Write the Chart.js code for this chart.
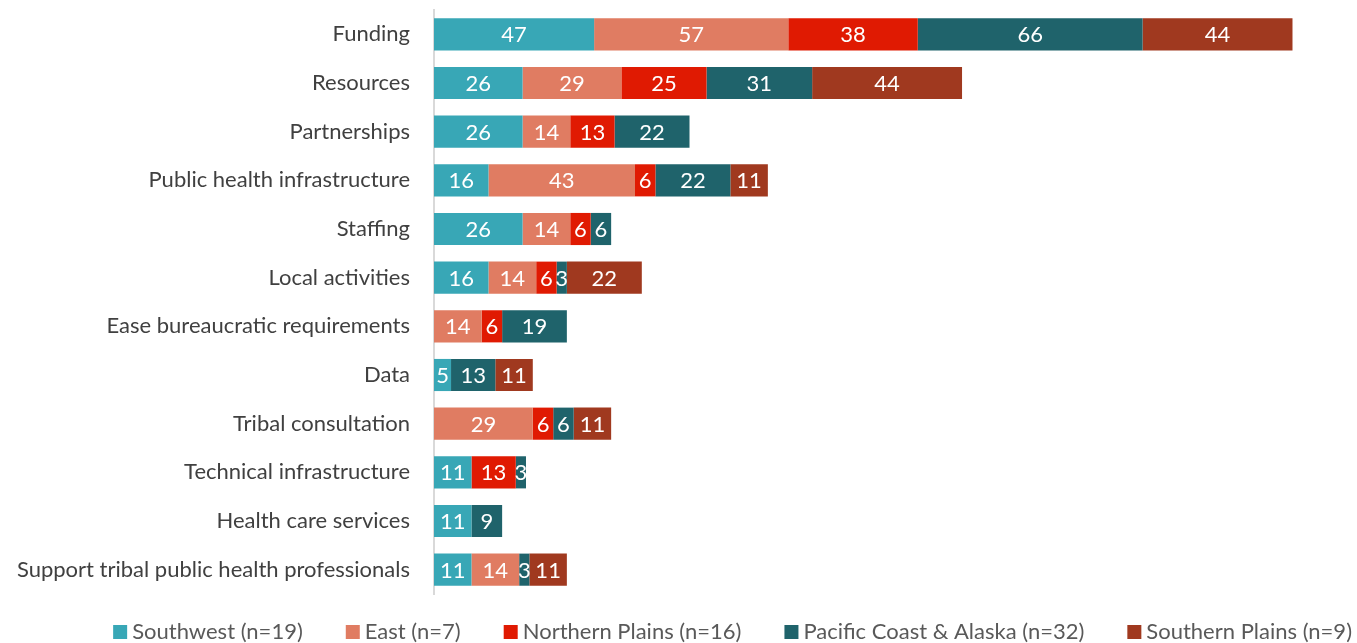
<!DOCTYPE html>
<html>
<head>
<meta charset="utf-8">
<script src="https://cdn.jsdelivr.net/npm/chart.js@4/dist/chart.umd.min.js"></script>
<style>
  html, body { margin: 0; padding: 0; background: #fff; }
  #wrap { width: 1357px; height: 643px; position: relative; }
</style>
</head>
<body>
<div id="wrap"><canvas id="myChart"></canvas></div>
<script>
// categories, top to bottom
var categories = ['Funding', 'Resources', 'Partnerships', 'Public health infrastructure', 'Staffing',
  'Local activities', 'Ease bureaucratic requirements', 'Data', 'Tribal consultation',
  'Technical infrastructure', 'Health care services', 'Support tribal public health professionals'];

// percent of respondents per region (0 = not mentioned)
var southwest      = [47, 26, 26, 16, 26, 16, 0, 5, 0, 11, 11, 11];
var east           = [57, 29, 14, 43, 14, 14, 14, 0, 29, 0, 0, 14];
var northernPlains = [38, 25, 13, 6, 6, 6, 6, 0, 6, 13, 0, 0];
var pacificCoast   = [66, 31, 22, 22, 6, 3, 19, 13, 6, 3, 9, 3];
var southernPlains = [44, 44, 0, 11, 0, 22, 0, 11, 11, 0, 0, 11];

var seriesNames = ['Southwest (n=19)', 'East (n=7)', 'Northern Plains (n=16)',
  'Pacific Coast & Alaska (n=32)', 'Southern Plains (n=9)'];

var FONT = 'Lato, "Open Sans", sans-serif';
var FSIZE = 22;

// white numbers in the middle of each segment
var segmentLabels = {
  id: 'segmentLabels',
  afterDatasetsDraw: function(chart) {
    var ctx = chart.ctx;
    ctx.save();
    ctx.font = FSIZE + 'px ' + FONT;
    ctx.fillStyle = '#ffffff';
    ctx.textAlign = 'center';
    ctx.textBaseline = 'middle';
    chart.data.datasets.forEach(function(ds, i) {
      var meta = chart.getDatasetMeta(i);
      meta.data.forEach(function(bar, j) {
        var v = ds.data[j];
        if (!v) return;
        var p = bar.getProps(['x', 'y', 'base'], true);
        ctx.fillText(String(v), (p.x + p.base) / 2, p.y + 1);
      });
    });
    ctx.restore();
  }
};

// legend along the bottom, right aligned like the original
var bottomLegend = {
  id: 'bottomLegend',
  afterDraw: function(chart) {
    var ctx = chart.ctx;
    var box = 14, gapText = 5, gapItem = 43, yMid = 632;
    ctx.save();
    ctx.font = FSIZE + 'px ' + FONT;
    ctx.textBaseline = 'middle';
    ctx.textAlign = 'left';
    var widths = chart.data.datasets.map(function(ds) { return ctx.measureText(ds.label).width; });
    var total = 0;
    widths.forEach(function(w, i) { total += box + gapText + w + (i ? gapItem : 0); });
    var x = 1352 - total;
    chart.data.datasets.forEach(function(ds, i) {
      ctx.fillStyle = ds.backgroundColor;
      ctx.fillRect(x, yMid - box / 2, box, box);
      ctx.fillStyle = '#595959';
      ctx.fillText(ds.label, x + box + gapText, yMid);
      x += box + gapText + widths[i] + gapItem;
    });
    ctx.restore();
  }
};

var colors = ['#38A7B6', '#E07C62', '#E01A02', '#1F636B', '#A0391F'];
var values = [southwest, east, northernPlains, pacificCoast, southernPlains];

var ctx = document.getElementById('myChart');
var myChart = new Chart(ctx, {
  type: 'bar',
  data: {
    labels: categories,
    datasets: values.map(function(v, i) {
      return {
        label: seriesNames[i],
        data: v,
        backgroundColor: colors[i],
        borderWidth: 0,
        barPercentage: 0.66,
        categoryPercentage: 1
      };
    })
  },
  options: {
    indexAxis: 'y',
    responsive: true,
    maintainAspectRatio: false,
    animation: false,
    layout: { padding: { top: 10, right: 10, bottom: 49, left: 0 } },
    plugins: {
      legend: { display: false },
      tooltip: { enabled: false }
    },
    scales: {
      x: {
        stacked: true,
        display: false,
        min: 0,
        max: 268
      },
      y: {
        stacked: true,
        grid: { display: false, drawTicks: false },
        border: { display: true, color: '#D9D9D9', width: 2 },
        afterFit: function(scale) {
          scale.width = 434;
          scale.paddingTop = 0;
          scale.paddingBottom = 0;
        },
        ticks: {
          padding: 24,
          color: '#404040',
          font: { family: FONT, size: FSIZE }
        }
      }
    }
  },
  plugins: [segmentLabels, bottomLegend]
});
</script>
</body>
</html>
